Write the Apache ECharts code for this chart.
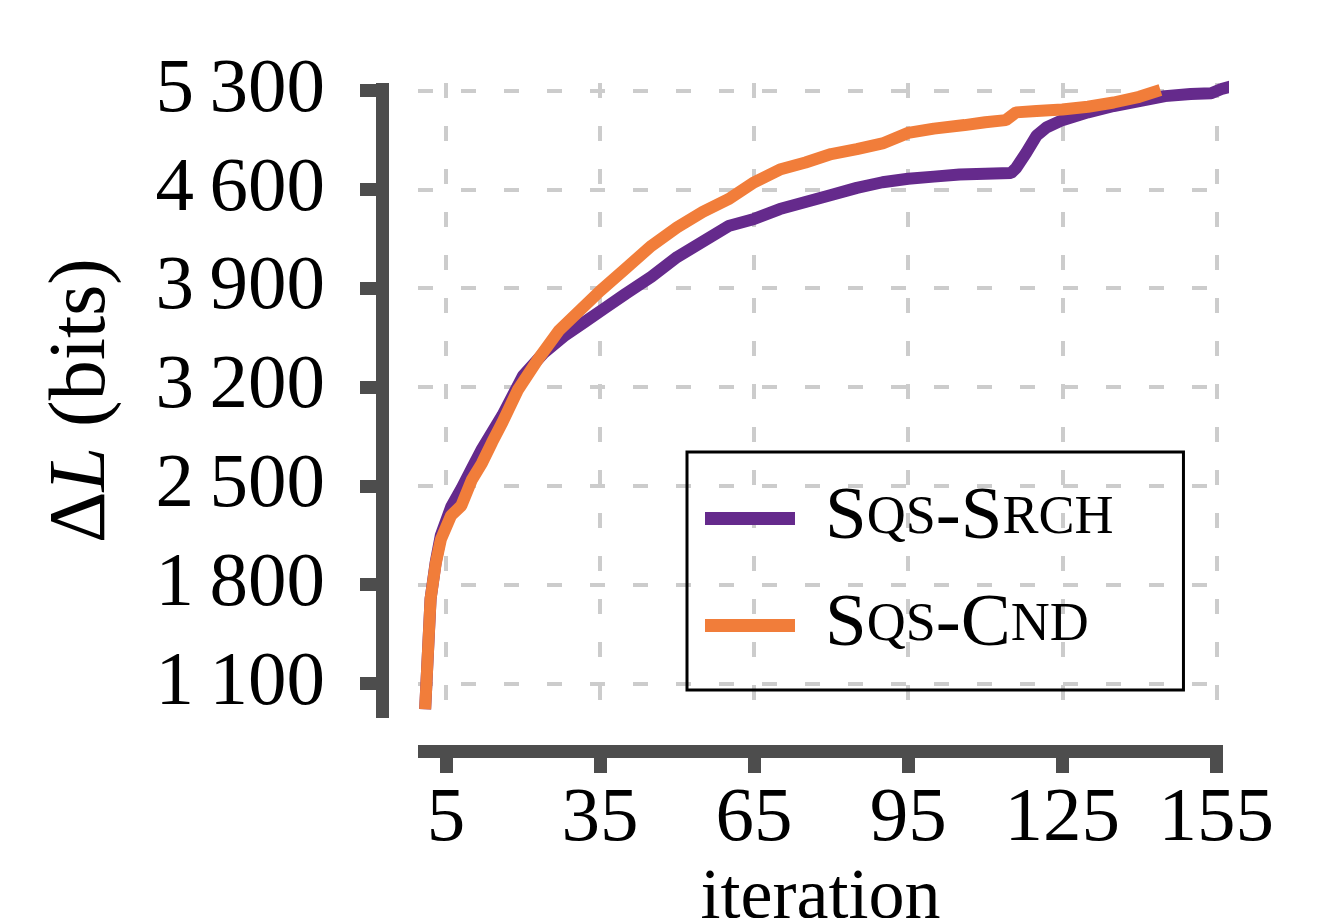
<!DOCTYPE html>
<html>
<head>
<meta charset="utf-8">
<script src="https://cdn.jsdelivr.net/npm/echarts@6/dist/echarts.min.js"></script>
<style>
  html, body { margin: 0; padding: 0; background: #ffffff; }
  #chart { width: 1332px; height: 918px; }
</style>
</head>
<body>
<div id="chart"></div>
<script>
// 数据
var xTicks = [5, 35, 65, 95, 125, 155];
var yTicks = [1100, 1800, 2500, 3200, 3900, 4600, 5300];

var srchIter = [1, 2, 3, 4, 6, 8, 10, 12, 14, 16, 20, 24, 28, 32, 36, 40, 45, 50, 55, 60, 65, 70, 75, 80, 85, 90, 95, 100, 105, 110, 115, 116, 118, 120, 122, 125, 130, 135, 140, 145, 150, 154, 156, 158, 161];
var srchVals = [960, 1700, 1960, 2150, 2350, 2480, 2620, 2760, 2880, 3000, 3280, 3440, 3560, 3660, 3760, 3860, 3980, 4120, 4230, 4340, 4390, 4460, 4510, 4560, 4610, 4650, 4675, 4690, 4705, 4710, 4715, 4750, 4860, 4980, 5040, 5090, 5145, 5190, 5225, 5260, 5275, 5280, 5310, 5330, 5350];

var cndIter = [1, 2, 3, 4, 6, 8, 10, 12, 14, 16, 19, 23, 27, 31, 35, 40, 45, 50, 55, 60, 65, 70, 75, 80, 85, 90, 95, 100, 106, 110, 114, 116, 120, 125, 130, 135, 140, 143];
var cndVals = [960, 1700, 1950, 2120, 2290, 2360, 2540, 2660, 2810, 2950, 3180, 3400, 3600, 3740, 3880, 4040, 4200, 4330, 4440, 4530, 4650, 4740, 4790, 4850, 4885, 4925, 5000, 5030, 5055, 5075, 5090, 5145, 5155, 5165, 5185, 5215, 5255, 5290];

function pairs(xs, ys) {
    return xs.map(function (x, i) { return [x, ys[i]]; });
}

var serif = '"Liberation Serif", "DejaVu Serif", serif';
var axisColor = '#4d4d4d';

var chart = echarts.init(document.getElementById('chart'));
var option = {
    backgroundColor: '#ffffff',
    animation: false,
    grid: {left: 418, right: 109, top: 83, bottom: 200, containLabel: false, outerBoundsMode: 'none'},
    legend: {
        orient: 'vertical',
        left: 687,
        top: 452,
        padding: [29, 70, 27, 18],
        borderColor: '#000000',
        borderWidth: 3,
        itemWidth: 90,
        itemHeight: 13,
        itemGap: 32,
        icon: 'rect',
        data: ['Sqs-Srch', 'Sqs-Cnd'],
        formatter: function (name) {
            if (name === 'Sqs-Srch') return '{b|S}{s|QS}{b|-S}{s|RCH}';
            return '{b|S}{s|QS}{b|-C}{s|ND}';
        },
        textStyle: {
            padding: [0, 0, 0, 25],
            rich: {
                b: {fontFamily: serif, fontSize: 75, color: '#000', lineHeight: 80},
                s: {fontFamily: serif, fontSize: 54, color: '#000', lineHeight: 80}
            }
        }
    },
    xAxis: {
        type: 'value',
        min: -0.45,
        max: 156.3,
        offset: 33,
        name: 'iteration',
        nameLocation: 'middle',
        nameGap: 102,
        nameTextStyle: {fontFamily: serif, fontSize: 72, color: '#000', lineHeight: 72},
        axisLine: {show: true, onZero: false, lineStyle: {color: axisColor, width: 13, cap: 'butt'}},
        axisTick: {show: true, length: 22, customValues: xTicks, lineStyle: {color: axisColor, width: 13, cap: 'butt'}},
        axisLabel: {customValues: xTicks, margin: 30, fontFamily: serif, fontSize: 77, color: '#000'},
        splitLine: {show: true, lineStyle: {color: '#cccccc', width: 4, type: [15, 28]}}
    },
    yAxis: {
        type: 'value',
        min: 855.7,
        max: 5353,
        offset: 36,
        name: '{n|\u0394}{i|L}{n| (bits)}',
        nameLocation: 'middle',
        nameGap: 259,
        nameTextStyle: {
            lineHeight: 80,
            rich: {
                n: {fontFamily: serif, fontSize: 80, color: '#000', lineHeight: 80},
                i: {fontFamily: serif, fontSize: 80, fontStyle: 'italic', color: '#000', lineHeight: 80}
            }
        },
        axisLine: {show: true, onZero: false, lineStyle: {color: axisColor, width: 13, cap: 'butt'}},
        axisTick: {show: true, length: 22, customValues: yTicks, lineStyle: {color: axisColor, width: 13, cap: 'butt'}},
        axisLabel: {
            customValues: yTicks,
            margin: 57,
            fontFamily: serif,
            fontSize: 77,
            color: '#000',
            formatter: function (v) {
                var k = Math.floor(v / 1000);
                var r = String(v % 1000).padStart(3, '0');
                return k + '\u2009' + r;
            }
        },
        splitLine: {show: true, lineStyle: {color: '#cccccc', width: 4, type: [15, 28]}}
    },
    series: [
        {
            name: 'Sqs-Srch',
            type: 'line',
            data: pairs(srchIter, srchVals),
            showSymbol: false,
            clip: false,
            color: '#652a8c',
            lineStyle: {width: 12, color: '#652a8c', cap: 'square'}
        },
        {
            name: 'Sqs-Cnd',
            type: 'line',
            data: pairs(cndIter, cndVals),
            showSymbol: false,
            clip: false,
            color: '#f17d3a',
            lineStyle: {width: 12, color: '#f17d3a', cap: 'square'}
        }
    ]
};
chart.setOption(option);
</script>
</body>
</html>
